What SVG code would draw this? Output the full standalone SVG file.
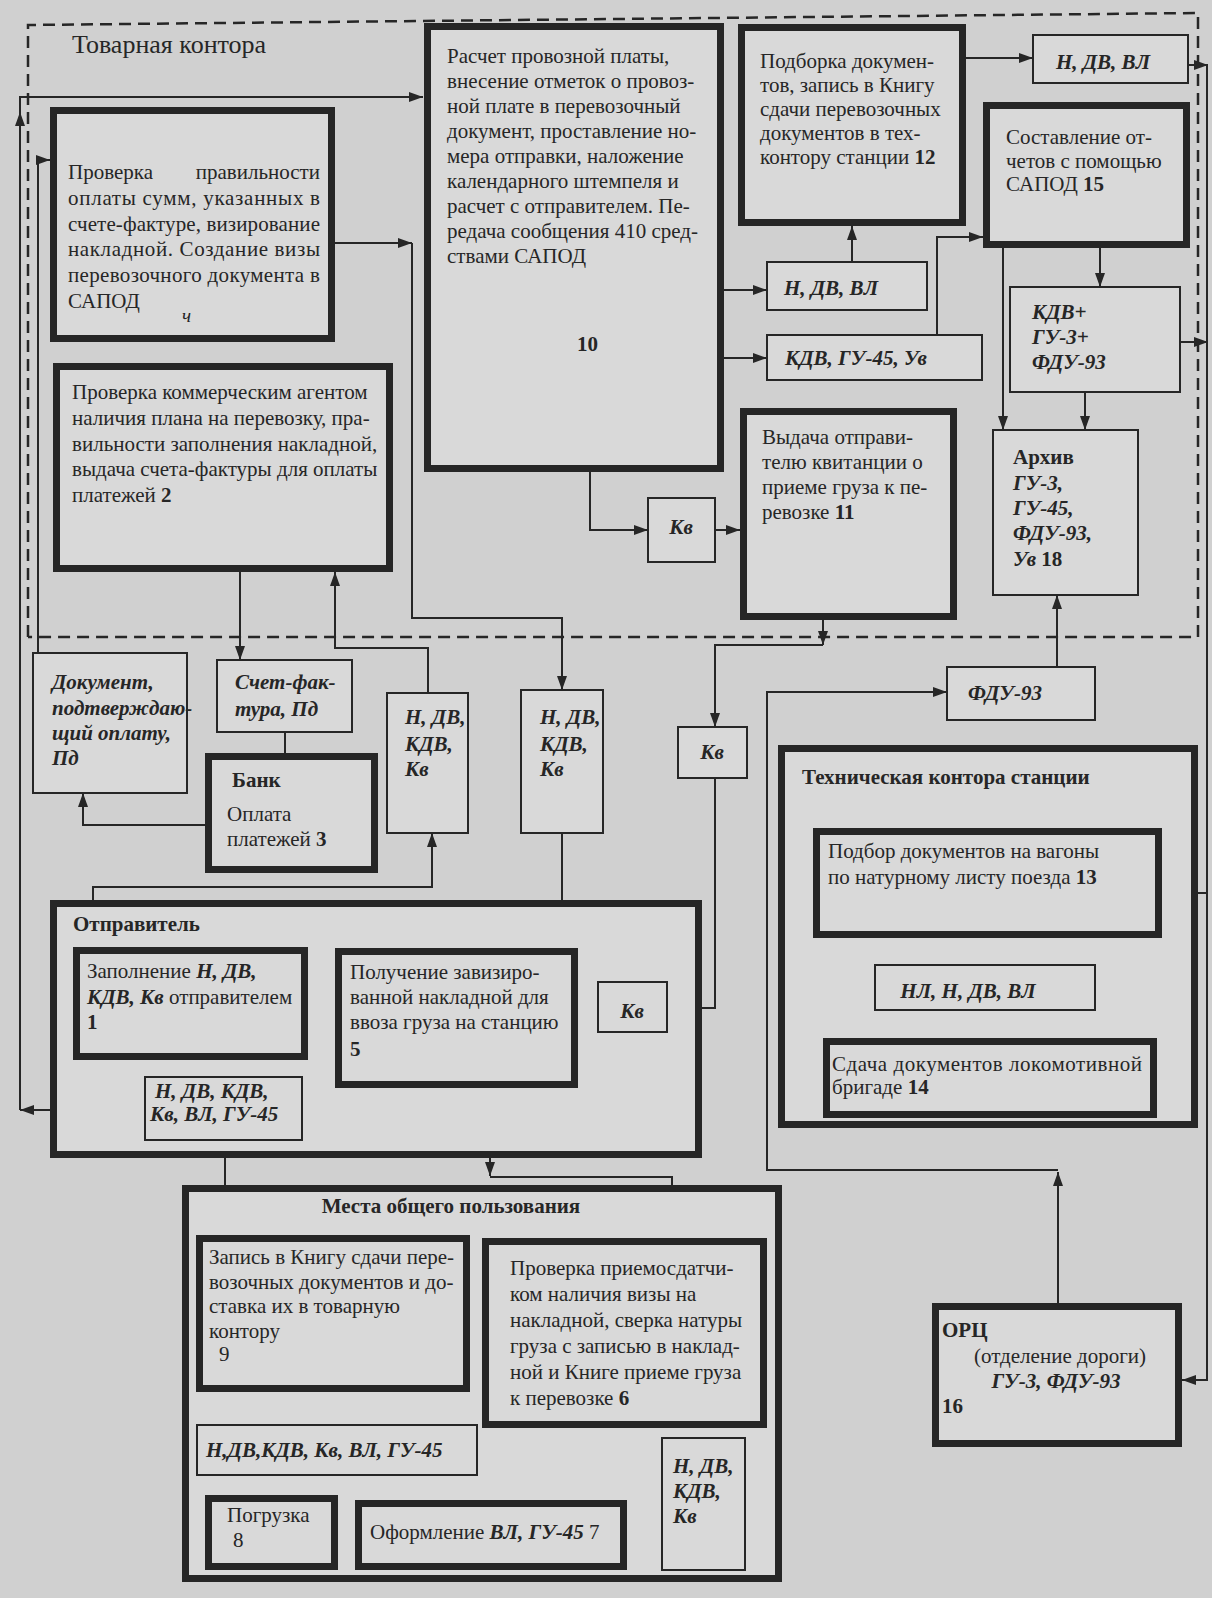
<svg xmlns="http://www.w3.org/2000/svg" width="1212" height="1598" viewBox="0 0 1212 1598">
<style>
.bg{fill:#d0d0d0}
.k{fill:#d9d9d9;stroke:#262626;stroke-width:7}
.n{fill:#d9d9d9;stroke:#262626;stroke-width:2}
.l{fill:none;stroke:#262626;stroke-width:2}
.d{fill:none;stroke:#262626;stroke-width:2.5;stroke-dasharray:12 7}
text{font-family:"Liberation Serif","Times New Roman",serif;font-size:21px;fill:#262626}
.bi{font-weight:bold;font-style:italic}
.b{font-weight:bold}
.c{text-anchor:middle}
</style>
<defs>
<marker id="a" viewBox="0 0 14 10" refX="14" refY="5" markerWidth="14" markerHeight="10" orient="auto" markerUnits="userSpaceOnUse"><path d="M0,0 L14,5 L0,10 z" fill="#262626"/></marker>
</defs>
<rect class="bg" x="0" y="0" width="1212" height="1598"/>

<g id="tovarnaya-kontora">
<path class="d" d="M28,637 V25 L1198,13 V637 H28"/>
<text x="72" y="53" style="font-size:26px">Товарная контора</text>
</g>

<g id="connectors">
<path class="l" d="M145,1110 H20" marker-end="url(#a)"/>
<path class="l" d="M20,1110 V97 H423" marker-end="url(#a)"/>
<path class="l" d="M20,200 V112" marker-end="url(#a)"/>
<path class="l" d="M38,653 V160 H50" marker-end="url(#a)"/>
<path class="l" d="M335,243 H412" marker-end="url(#a)"/>
<path class="l" d="M412,243 V618 H562 V690" marker-end="url(#a)"/>
<path class="l" d="M240,572 V660" marker-end="url(#a)"/>
<path class="l" d="M285,732 V753"/>
<path class="l" d="M205,825 H83 V793" marker-end="url(#a)"/>
<path class="l" d="M428,693 V648 H335 V572" marker-end="url(#a)"/>
<path class="l" d="M93,947 V887 H432 V833" marker-end="url(#a)"/>
<path class="l" d="M724,290 H767" marker-end="url(#a)"/>
<path class="l" d="M724,358 H767" marker-end="url(#a)"/>
<path class="l" d="M852,262 V226" marker-end="url(#a)"/>
<path class="l" d="M937,335 V237 H983" marker-end="url(#a)"/>
<path class="l" d="M966,58 H1033" marker-end="url(#a)"/>
<path class="l" d="M1188,65 H1208" marker-end="url(#a)"/>
<path class="l" d="M1100,248 V287" marker-end="url(#a)"/>
<path class="l" d="M1180,342 H1208" marker-end="url(#a)"/>
<path class="l" d="M1003,248 V430" marker-end="url(#a)"/>
<path class="l" d="M1085,392 V430" marker-end="url(#a)"/>
<path class="l" d="M590,472 V530 H648" marker-end="url(#a)"/>
<path class="l" d="M715,530 H740" marker-end="url(#a)"/>
<path class="l" d="M823,620 V645" marker-end="url(#a)"/>
<path class="l" d="M823,645 H715 V727" marker-end="url(#a)"/>
<path class="l" d="M715,778 V1008 H667" marker-end="url(#a)"/>
<path class="l" d="M562,833 V948" marker-end="url(#a)"/>
<path class="l" d="M1057,667 V595" marker-end="url(#a)"/>
<path class="l" d="M1058,1303 V1172" marker-end="url(#a)"/>
<path class="l" d="M1058,1170 H767 V692 H947" marker-end="url(#a)"/>
<path class="l" d="M1207,65 V1380 H1182" marker-end="url(#a)"/>
<path class="l" d="M1207,893 H1162" marker-end="url(#a)"/>
<path class="l" d="M987,938 V965" marker-end="url(#a)"/>
<path class="l" d="M987,1010 V1038" marker-end="url(#a)"/>
<path class="l" d="M490,1088 V1176" marker-end="url(#a)"/>
<path class="l" d="M490,1177 H672 V1238" marker-end="url(#a)"/>
<path class="l" d="M225,1235 V1140" marker-end="url(#a)"/>
<path class="l" d="M335,1425 V1392" marker-end="url(#a)"/>
<path class="l" d="M293,1495 V1475" marker-end="url(#a)"/>
<path class="l" d="M355,1532 H338" marker-end="url(#a)"/>
<path class="l" d="M662,1525 H627" marker-end="url(#a)"/>
<path class="l" d="M703,1428 V1438"/>
</g>

<g id="box4">
<rect class="k" x="53.5" y="110.5" width="278" height="228"/>
<text x="68" y="179">Проверка</text>
<text x="320" y="179" text-anchor="end">правильности</text>
<text x="68" y="205" textLength="252" lengthAdjust="spacing">оплаты сумм, указанных в</text>
<text x="68" y="231" textLength="252" lengthAdjust="spacing">счете-фактуре, визирование</text>
<text x="68" y="256" textLength="252" lengthAdjust="spacing">накладной. Создание визы</text>
<text x="68" y="282" textLength="252" lengthAdjust="spacing">перевозочного документа в</text>
<text x="68" y="308">САПОД</text>
<text x="182" y="322" style="font-style:italic;font-size:19px">ч</text>
</g>

<g id="box2">
<rect class="k" x="56.5" y="366.5" width="333" height="202"/>
<text x="72" y="399">Проверка коммерческим агентом</text>
<text x="72" y="425">наличия плана на перевозку, пра-</text>
<text x="72" y="451">вильности заполнения накладной,</text>
<text x="72" y="476">выдача счета-фактуры для оплаты</text>
<text x="72" y="502">платежей <tspan class="b">2</tspan></text>
</g>

<g id="box10">
<rect class="k" x="427.5" y="26.5" width="293" height="442"/>
<text x="447" y="63">Расчет провозной платы,</text>
<text x="447" y="88">внесение отметок о провоз-</text>
<text x="447" y="113">ной плате в перевозочный</text>
<text x="447" y="138">документ, проставление но-</text>
<text x="447" y="163">мера отправки, наложение</text>
<text x="447" y="188">календарного штемпеля и</text>
<text x="447" y="213">расчет с отправителем. Пе-</text>
<text x="447" y="238">редача сообщения 410 сред-</text>
<text x="447" y="263">ствами САПОД</text>
<text x="577" y="351" class="b">10</text>
</g>

<g id="box12">
<rect class="k" x="741.5" y="27.5" width="221" height="195"/>
<text x="760" y="68">Подборка докумен-</text>
<text x="760" y="92">тов, запись в Книгу</text>
<text x="760" y="116">сдачи перевозочных</text>
<text x="760" y="140">документов в тех-</text>
<text x="760" y="164">контору станции <tspan class="b">12</tspan></text>
</g>

<g id="docs-ndvvl-1">
<rect class="n" x="1033" y="35" width="155" height="48"/>
<text x="1103" y="69" class="bi c">Н, ДВ, ВЛ</text>
</g>

<g id="box15">
<rect class="k" x="986.5" y="105.5" width="200" height="139"/>
<text x="1006" y="144">Составление от-</text>
<text x="1006" y="168">четов с помощью</text>
<text x="1006" y="191">САПОД <tspan class="b">15</tspan></text>
</g>

<g id="docs-ndvvl-2">
<rect class="n" x="767" y="262" width="160" height="48"/>
<text x="831" y="295" class="bi c">Н, ДВ, ВЛ</text>
</g>

<g id="docs-kdv-gu45-uv">
<rect class="n" x="767" y="335" width="215" height="45"/>
<text x="785" y="365" class="bi">КДВ, ГУ-45, Ув</text>
</g>

<g id="docs-kdv-gu3-fdu93">
<rect class="n" x="1010" y="287" width="170" height="105"/>
<text x="1032" y="319" class="bi">КДВ+</text>
<text x="1032" y="344" class="bi">ГУ-3+</text>
<text x="1032" y="369" class="bi">ФДУ-93</text>
</g>

<g id="kv-1">
<rect class="n" x="648" y="498" width="67" height="64"/>
<text x="681" y="534" class="bi c">Кв</text>
</g>

<g id="box11">
<rect class="k" x="743.5" y="411.5" width="210" height="205"/>
<text x="762" y="444">Выдача отправи-</text>
<text x="762" y="469">телю квитанции о</text>
<text x="762" y="494">приеме груза к пе-</text>
<text x="762" y="519">ревозке <tspan class="b">11</tspan></text>
</g>

<g id="archive">
<rect class="n" x="993" y="430" width="145" height="165"/>
<text x="1013" y="464" class="b">Архив</text>
<text x="1013" y="490" class="bi">ГУ-3,</text>
<text x="1013" y="515" class="bi">ГУ-45,</text>
<text x="1013" y="540" class="bi">ФДУ-93,</text>
<text x="1013" y="566"><tspan class="bi">Ув</tspan><tspan class="b"> 18</tspan></text>
</g>

<g id="fdu93">
<rect class="n" x="947" y="667" width="148" height="53"/>
<text x="1005" y="700" class="bi c">ФДУ-93</text>
</g>

<g id="kv-2">
<rect class="n" x="678" y="727" width="69" height="51"/>
<text x="712" y="759" class="bi c">Кв</text>
</g>

<g id="doc-payment">
<rect class="n" x="33" y="653" width="154" height="140"/>
<text x="52" y="689" class="bi">Документ,</text>
<text x="52" y="715" class="bi">подтверждаю-</text>
<text x="52" y="740" class="bi">щий оплату,</text>
<text x="52" y="765" class="bi">Пд</text>
</g>

<g id="invoice">
<rect class="n" x="217" y="660" width="135" height="72"/>
<text x="235" y="689" class="bi">Счет-фак-</text>
<text x="235" y="716" class="bi">тура, Пд</text>
</g>

<g id="docs-a">
<rect class="n" x="387" y="693" width="81" height="140"/>
<text x="405" y="724" class="bi">Н, ДВ,</text>
<text x="405" y="751" class="bi">КДВ,</text>
<text x="405" y="776" class="bi">Кв</text>
</g>

<g id="docs-b">
<rect class="n" x="521" y="690" width="82" height="143"/>
<text x="540" y="724" class="bi">Н, ДВ,</text>
<text x="540" y="751" class="bi">КДВ,</text>
<text x="540" y="776" class="bi">Кв</text>
</g>

<g id="bank">
<rect class="k" x="208.5" y="756.5" width="166" height="113"/>
<text x="232" y="787" class="b">Банк</text>
<text x="227" y="821">Оплата</text>
<text x="227" y="846">платежей <tspan class="b">3</tspan></text>
</g>

<g id="tech-kontora">
<rect class="k" x="781.5" y="748.5" width="413" height="376"/>
<text x="802" y="784" class="b">Техническая контора станции</text>
</g>

<g id="box13">
<rect class="k" x="816.5" y="831.5" width="342" height="103"/>
<text x="828" y="858">Подбор документов на вагоны</text>
<text x="828" y="884">по натурному листу поезда <tspan class="b">13</tspan></text>
</g>

<g id="docs-nl">
<rect class="n" x="875" y="965" width="220" height="45"/>
<text x="968" y="998" class="bi c">НЛ, Н, ДВ, ВЛ</text>
</g>

<g id="box14">
<rect class="k" x="826.5" y="1041.5" width="327" height="73"/>
<text x="832" y="1071" textLength="310" lengthAdjust="spacing">Сдача документов локомотивной</text>
<text x="832" y="1094">бригаде <tspan class="b">14</tspan></text>
</g>

<g id="otpravitel">
<rect class="k" x="53.5" y="903.5" width="645" height="251"/>
<text x="73" y="931" class="b">Отправитель</text>
</g>

<g id="box1">
<rect class="k" x="76.5" y="950.5" width="228" height="106"/>
<text x="87" y="978">Заполнение <tspan class="bi">Н, ДВ,</tspan></text>
<text x="87" y="1004"><tspan class="bi">КДВ, Кв</tspan> отправителем</text>
<text x="87" y="1029" class="b">1</text>
</g>

<g id="box5">
<rect class="k" x="338.5" y="951.5" width="236" height="133"/>
<text x="350" y="979">Получение завизиро-</text>
<text x="350" y="1004">ванной накладной для</text>
<text x="350" y="1029">ввоза груза на станцию</text>
<text x="350" y="1056" class="b">5</text>
</g>

<g id="kv-3">
<rect class="n" x="598" y="982" width="69" height="50"/>
<text x="632" y="1018" class="bi c">Кв</text>
</g>

<g id="docs-sender">
<rect class="n" x="145" y="1077" width="157" height="63"/>
<text x="155" y="1098" class="bi">Н, ДВ, КДВ,</text>
<text x="150" y="1121" class="bi">Кв, ВЛ, ГУ-45</text>
</g>

<g id="orc">
<rect class="k" x="935.5" y="1306.5" width="243" height="137"/>
<text x="942" y="1337" class="b">ОРЦ</text>
<text x="1060" y="1363" class="c">(отделение дороги)</text>
<text x="1056" y="1388" class="bi c">ГУ-3, ФДУ-93</text>
<text x="942" y="1413" class="b">16</text>
</g>

<g id="mesta">
<rect class="k" x="185.5" y="1188.5" width="593" height="390"/>
<text x="451" y="1213" class="b c">Места общего пользования</text>
</g>

<g id="box9">
<rect class="k" x="199.5" y="1238.5" width="267" height="150"/>
<text x="209" y="1264">Запись в Книгу сдачи пере-</text>
<text x="209" y="1289">возочных документов и до-</text>
<text x="209" y="1313">ставка их в товарную</text>
<text x="209" y="1338">контору</text>
<text x="219" y="1361">9</text>
</g>

<g id="box6">
<rect class="k" x="485.5" y="1241.5" width="278" height="183"/>
<text x="510" y="1275">Проверка приемосдатчи-</text>
<text x="510" y="1301">ком наличия визы на</text>
<text x="510" y="1327">накладной, сверка натуры</text>
<text x="510" y="1353">груза с записью в наклад-</text>
<text x="510" y="1379">ной и Книге приеме груза</text>
<text x="510" y="1405">к перевозке <tspan class="b">6</tspan></text>
</g>

<g id="docs-mesta">
<rect class="n" x="197" y="1425" width="280" height="50"/>
<text x="206" y="1457" class="bi">Н,ДВ,КДВ, Кв, ВЛ, ГУ-45</text>
</g>

<g id="docs-mesta-right">
<rect class="n" x="662" y="1438" width="83" height="132"/>
<text x="673" y="1473" class="bi">Н, ДВ,</text>
<text x="673" y="1498" class="bi">КДВ,</text>
<text x="673" y="1523" class="bi">Кв</text>
</g>

<g id="box8">
<rect class="k" x="208.5" y="1498.5" width="126" height="68"/>
<text x="227" y="1522">Погрузка</text>
<text x="233" y="1547">8</text>
</g>

<g id="box7">
<rect class="k" x="358.5" y="1503.5" width="265" height="63"/>
<text x="370" y="1539">Оформление <tspan class="bi">ВЛ, ГУ-45</tspan> 7</text>
</g>
</svg>
